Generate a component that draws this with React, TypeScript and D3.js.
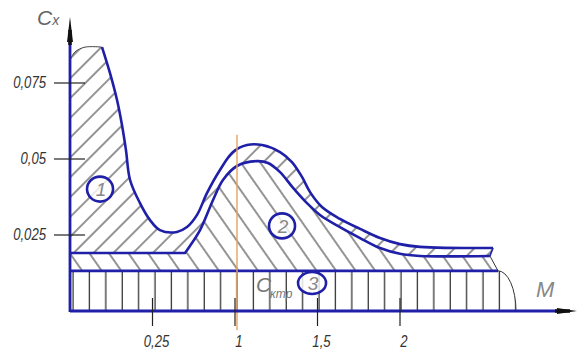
import * as d3 from "d3";

// Cx(M) diagram: total drag split into regions 1, 2 and friction band 3
const xTickValues = [0.5, 1, 1.5, 2];
const xTickLabels = ["0,25", "1", "1,5", "2"];
const yTickValues = [0.025, 0.05, 0.075];
const yTickLabels = ["0,025", "0,05", "0,075"];

// [M, Cx]
const topEdge: [number, number][] = [
  [0, 0.0826], [0.03, 0.0852], [0.091, 0.0868], [0.194, 0.0868],
];
const outerCurve: [number, number][] = [
  [0.194, 0.0868], [0.242, 0.0783], [0.285, 0.0694], [0.315, 0.0612],
  [0.339, 0.053], [0.364, 0.0431], [0.424, 0.0355], [0.485, 0.0299],
  [0.545, 0.0266], [0.648, 0.026], [0.709, 0.0276], [0.77, 0.0316],
  [0.83, 0.0388], [0.909, 0.0464], [0.988, 0.0523], [1.073, 0.0546],
  [1.164, 0.0546], [1.273, 0.0523], [1.345, 0.049], [1.406, 0.0441],
  [1.455, 0.0391], [1.527, 0.0342], [1.636, 0.0303], [1.758, 0.027],
  [1.879, 0.024], [2.0, 0.022], [2.121, 0.0211], [2.564, 0.0207],
];
// flat part from the axis to M = 0.697, then the hump
const innerFlat: [number, number][] = [[0, 0.0191], [0.697, 0.0191]];
const innerHump: [number, number][] = [
  [0.697, 0.0191], [0.727, 0.0214], [0.788, 0.0266], [0.867, 0.0365],
  [0.927, 0.0431], [1.012, 0.0477], [1.133, 0.0493], [1.2, 0.0487],
  [1.273, 0.0457], [1.352, 0.0405], [1.436, 0.0355], [1.515, 0.0316],
  [1.636, 0.0276], [1.758, 0.024], [1.879, 0.0207], [2.0, 0.0188],
  [2.121, 0.0181], [2.545, 0.0181],
];
const frictionCx = 0.0132;
const frictionEndM = 2.594;
const frictionTailM = 2.703;
const markerM = 1;

const regionLabels = [
  { id: "1", m: 0.182, cx: 0.0401 },
  { id: "2", m: 1.285, cx: 0.0280 },
  { id: "3", m: 1.467, cx: 0.0092 },
];

const BLUE = "#1f1fa8";

export default function App() {
  const width = 577;
  const height = 350;

  const x = d3.scaleLinear().domain([0, 1]).range([70, 235]);
  const y = d3.scaleLinear().domain([0, 0.075]).range([311, 83]);

  const straight = d3.line<[number, number]>().x(d => x(d[0])).y(d => y(d[1]));
  const smooth = d3
    .line<[number, number]>()
    .x(d => x(d[0]))
    .y(d => y(d[1]))
    .curve(d3.curveCatmullRom.alpha(0.5));

  const cont = (s: string | null) => (s ?? "").replace(/^M/, "L");
  const last = (a: [number, number][]) => a[a.length - 1];

  const innerPath = (straight(innerFlat) ?? "") + cont(smooth(innerHump));
  const innerBack =
    cont(smooth([...innerHump].reverse())) + cont(straight([...innerFlat].reverse()));

  const region1 =
    (smooth(topEdge) ?? "") +
    cont(smooth(outerCurve)) +
    cont(straight([last(outerCurve), last(innerHump)])) +
    innerBack +
    "Z";

  const region2 =
    innerPath +
    cont(straight([[frictionEndM, frictionCx], [0, frictionCx]])) +
    "Z";

  const rx = x(frictionTailM) - x(frictionEndM);
  const ry = y(0) - y(frictionCx);
  const tail = `A${rx},${ry} 0 0 1 ${x(frictionTailM)},${y(0)}`;
  const region3 =
    (straight([[0, 0], [0, frictionCx], [frictionEndM, frictionCx]]) ?? "") +
    tail +
    "Z";

  const x0 = x(0);
  const yAxis = y(0);
  const font = "'Liberation Sans', Arial, sans-serif";

  return (
    <div style={{ position: "fixed", left: 0, top: 0 }}>
      <svg width={width} height={height} style={{ display: "block", background: "#fff" }}>
        <defs>
          <pattern id="h1" patternUnits="userSpaceOnUse" width={14} height={14} patternTransform="rotate(45)">
            <line x1={7} y1={0} x2={7} y2={14} stroke="#111" strokeWidth={0.9} />
          </pattern>
          <pattern id="h2" patternUnits="userSpaceOnUse" width={16} height={16} patternTransform="rotate(-35)">
            <line x1={8} y1={0} x2={8} y2={16} stroke="#111" strokeWidth={0.9} />
          </pattern>
          <pattern id="h3" patternUnits="userSpaceOnUse" x={65} y={0} width={16.4} height={20}>
            <line x1={8} y1={0} x2={8} y2={20} stroke="#111" strokeWidth={1.1} />
          </pattern>
        </defs>

        {/* hatched regions */}
        <path d={region1} fill="url(#h1)" stroke="none" />
        <path d={region2} fill="url(#h2)" stroke="none" />
        <path d={region3} fill="url(#h3)" stroke="none" />

        {/* region outlines */}
        <path d={smooth(topEdge) ?? ""} fill="none" stroke="#444" strokeWidth={1} />
        <path d={smooth(outerCurve) ?? ""} fill="none" stroke={BLUE} strokeWidth={2.6} />
        <path d={innerPath} fill="none" stroke={BLUE} strokeWidth={2.6} />
        <path d={straight([last(outerCurve), last(innerHump)]) ?? ""} fill="none" stroke={BLUE} strokeWidth={1.6} />
        <path
          d={straight([last(innerHump), [frictionEndM, frictionCx]]) ?? ""}
          fill="none"
          stroke="#333"
          strokeWidth={1}
        />
        <path d={straight([[0, frictionCx], [frictionEndM, frictionCx]]) ?? ""} fill="none" stroke={BLUE} strokeWidth={2.6} />
        <path
          d={`M${x(frictionEndM)},${y(frictionCx)}` + tail}
          fill="none"
          stroke="#333"
          strokeWidth={1}
        />

        {/* marker line at M = 1 */}
        <line
          x1={x(markerM) + 2}
          x2={x(markerM) + 2}
          y1={y(0.058)}
          y2={y(-0.0063)}
          stroke="#e5a45c"
          strokeWidth={1.4}
        />

        {/* axes */}
        <line x1={x0} x2={x0} y1={yAxis + 1} y2={42} stroke={BLUE} strokeWidth={2.8} />
        <line x1={x0} x2={558} y1={yAxis} y2={yAxis} stroke={BLUE} strokeWidth={2.8} />
        <path d={`M${x0},17 L${x0 + 3},42 L${x0 - 3},42 Z`} fill="#111" />
        <line x1={x0} x2={x0} y1={30} y2={45} stroke="#111" strokeWidth={3.5} />
        <path d={`M577,${yAxis} L557,${yAxis - 3} L557,${yAxis + 3} Z`} fill="#111" />
        <line x1={555} x2={570} y1={yAxis} y2={yAxis} stroke="#111" strokeWidth={3.5} />

        {/* x ticks */}
        {xTickValues.map((v, i) => (
          <g key={`xt${i}`}>
            <line x1={x(v)} x2={x(v)} y1={yAxis - 13} y2={yAxis + 15} stroke="#222" strokeWidth={1.2} />
            <text
              x={x(v) + 4}
              y={347}
              textAnchor="middle"
              fontFamily={font}
              fontStyle="italic"
              fontSize={16}
              fill="#333"
              transform={`translate(${(x(v) + 4) * 0.18},0) scale(0.82,1)`}
            >
              {xTickLabels[i]}
            </text>
          </g>
        ))}

        {/* y ticks */}
        {yTickValues.map((v, i) => (
          <g key={`yt${i}`}>
            <line x1={54} x2={85} y1={y(v)} y2={y(v)} stroke="#222" strokeWidth={1.2} />
            <text
              x={46}
              y={y(v) + 5}
              textAnchor="end"
              fontFamily={font}
              fontStyle="italic"
              fontSize={16}
              fill="#333"
              transform={`translate(${46 * 0.18},0) scale(0.82,1)`}
            >
              {yTickLabels[i]}
            </text>
          </g>
        ))}

        {/* region markers */}
        {regionLabels.map(r => (
          <g key={r.id}>
            <ellipse
              cx={x(r.m)}
              cy={y(r.cx)}
              rx={r.id === "3" ? 14 : 13}
              ry={r.id === "3" ? 11 : 12.5}
              fill="#fff"
              fillOpacity={0.8}
              stroke={BLUE}
              strokeWidth={2.6}
            />
            <text
              x={x(r.m) + 1}
              y={y(r.cx) + 7}
              textAnchor="middle"
              fontFamily={font}
              fontStyle="italic"
              fontSize={19}
              fill="#888"
            >
              {r.id}
            </text>
          </g>
        ))}

        {/* axis titles */}
        <text x={37} y={25} fontFamily={font} fontStyle="italic" fill="#666">
          <tspan fontSize={21}>C</tspan>
          <tspan fontSize={14}>x</tspan>
        </text>
        <text x={536} y={297} fontFamily={font} fontStyle="italic" fontSize={22} fill="#888">
          M
        </text>
        <text x={256} y={292} fontFamily={font} fontStyle="italic" fontSize={21} fill="#777">
          C
        </text>
        <text x={270} y={298} fontFamily={font} fontStyle="italic" fontSize={12} fill="#777">
          ктр
        </text>
      </svg>
    </div>
  );
}
